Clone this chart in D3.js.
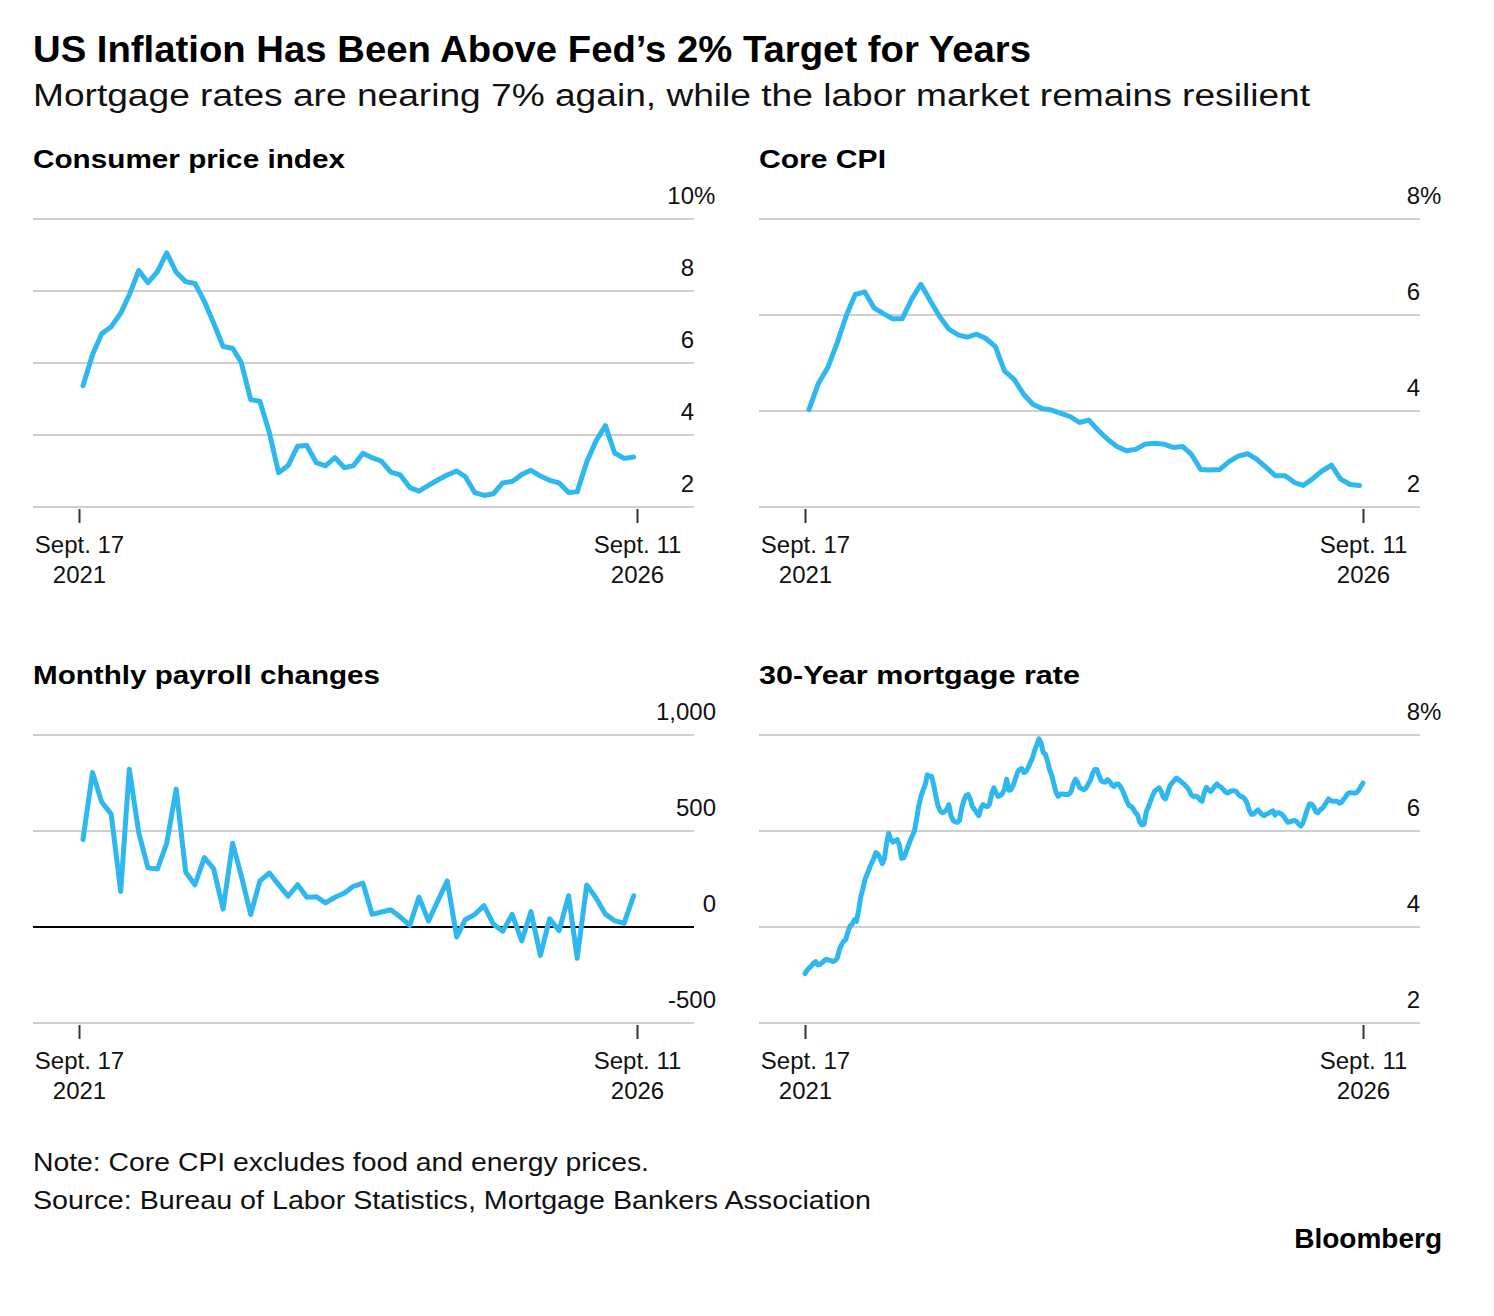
<!DOCTYPE html>
<html>
<head>
<meta charset="utf-8">
<script src="https://cdn.jsdelivr.net/npm/d3@7"></script>
<style>
  body { margin: 0; background: #fff; }
  svg { display: block; font-family: "Liberation Sans", Arial, Helvetica, sans-serif; }
</style>
</head>
<body>
<svg id="chart"></svg>
<script>
let width = 1494, height = 1316;
let lineColor = "#2fb7ef";
let gridColor = "#cfcfcf";

let startDate = new Date(2021, 8, 17);
let endDate = new Date(2026, 8, 11);

// monthly, Sept 2021 .. Aug 2026 (YoY %)
let cpi = [
  5.37, 6.23, 6.81, 7.01, 7.38, 7.89, 8.57, 8.23, 8.54, 9.06,
  8.52, 8.26, 8.21, 7.71, 7.11, 6.46, 6.41, 6.02, 4.98, 4.94,
  4.06, 2.95, 3.15, 3.69, 3.71, 3.23, 3.14, 3.37, 3.09, 3.15,
  3.49, 3.37, 3.27, 2.97, 2.89, 2.54, 2.44, 2.60, 2.75, 2.89,
  3.00, 2.84, 2.40, 2.32, 2.37, 2.67, 2.71, 2.90, 3.02, 2.86,
  2.74, 2.67, 2.40, 2.42, 3.25, 3.83, 4.26, 3.50, 3.35, 3.39
];
let coreCpi = [
  4.03, 4.58, 4.90, 5.42, 6.01, 6.43, 6.48, 6.15, 6.03, 5.92,
  5.92, 6.33, 6.64, 6.29, 5.97, 5.70, 5.58, 5.54, 5.60, 5.51,
  5.34, 4.83, 4.66, 4.35, 4.14, 4.05, 4.02, 3.95, 3.88, 3.76,
  3.81, 3.60, 3.41, 3.26, 3.17, 3.20, 3.31, 3.33, 3.31, 3.24,
  3.26, 3.10, 2.78, 2.77, 2.78, 2.94, 3.06, 3.11, 2.99, 2.82,
  2.65, 2.65, 2.51, 2.45, 2.59, 2.75, 2.87, 2.58, 2.47, 2.45
];
// thousands of jobs
let payrolls = [
  455, 805, 651, 588, 185, 822, 490, 308, 302, 436,
  718, 286, 220, 361, 304, 93, 436, 269, 65, 240,
  281, 221, 160, 220, 155, 158, 126, 155, 177, 212,
  229, 66, 78, 90, 52, 9, 156, 31, 135, 240,
  -52, 38, 66, 111, 14, -22, 66, -73, 80, -148,
  43, -19, 163, -163, 219, 152, 67, 33, 19, 163
];
// weekly, Sept 17 2021 .. Sept 11 2026
let mortgage = [
  3.03, 3.10, 3.15, 3.19, 3.25, 3.28, 3.21, 3.22, 3.26, 3.30,
  3.33, 3.31, 3.30, 3.28, 3.30, 3.35, 3.52, 3.63, 3.70, 3.74,
  3.90, 4.02, 4.06, 4.15, 4.12, 4.35, 4.63, 4.80, 5.00, 5.10,
  5.22, 5.33, 5.42, 5.55, 5.52, 5.43, 5.32, 5.42, 5.74, 5.95,
  5.82, 5.77, 5.80, 5.82, 5.70, 5.43, 5.44, 5.55, 5.68, 5.80,
  5.90, 6.00, 6.25, 6.52, 6.72, 6.85, 6.96, 7.17, 7.14, 7.14,
  6.95, 6.72, 6.52, 6.42, 6.38, 6.40, 6.45, 6.55, 6.32, 6.22,
  6.19, 6.18, 6.22, 6.47, 6.63, 6.74, 6.76, 6.67, 6.51, 6.45,
  6.38, 6.32, 6.48, 6.55, 6.52, 6.51, 6.56, 6.78, 6.90,
  6.80, 6.72, 6.74, 6.78, 6.88, 7.08, 6.85, 6.86, 6.95, 7.08,
  7.22, 7.28, 7.30, 7.22, 7.24, 7.32, 7.42, 7.52, 7.68, 7.79,
  7.92, 7.83, 7.63, 7.60, 7.46, 7.27, 7.16, 6.97, 6.80, 6.72,
  6.77, 6.77, 6.76, 6.76, 6.77, 6.82, 6.98, 7.08, 7.02, 6.90,
  6.88, 6.86, 6.90, 6.98, 7.06, 7.20, 7.28, 7.28, 7.15, 7.05,
  7.02, 7.02, 7.07, 7.03, 6.96, 6.93, 6.98, 6.98, 6.92, 6.84,
  6.73, 6.62, 6.53, 6.51, 6.46, 6.38, 6.33, 6.18, 6.13, 6.14,
  6.40, 6.50, 6.62, 6.74, 6.83, 6.87, 6.90, 6.82, 6.70, 6.67,
  6.80, 6.94, 7.00, 7.05, 7.10, 7.07, 7.04, 7.00, 6.96,
  6.91, 6.85, 6.75, 6.72, 6.73, 6.71, 6.65, 6.62, 6.80, 6.91,
  6.86, 6.82, 6.87, 6.94, 6.98, 6.93, 6.91, 6.86, 6.81, 6.79,
  6.82, 6.84, 6.84, 6.82, 6.76, 6.72, 6.71, 6.66, 6.58, 6.43,
  6.35, 6.35, 6.40, 6.44, 6.39, 6.34, 6.32, 6.35, 6.37, 6.40,
  6.42, 6.33, 6.38, 6.38, 6.35, 6.31, 6.24, 6.18, 6.19, 6.21,
  6.22, 6.20, 6.15, 6.10, 6.17, 6.30, 6.44, 6.56, 6.56, 6.51,
  6.40, 6.38, 6.44, 6.47, 6.53, 6.60, 6.67, 6.63, 6.62, 6.62,
  6.62, 6.58, 6.60, 6.66, 6.72, 6.78, 6.80, 6.79, 6.79, 6.80,
  6.85, 6.93, 7.00
];

let cpiTicks = [2, 4, 6, 8, 10];
let coreTicks = [2, 4, 6, 8];
let payrollTicks = [-500, 0, 500, 1000];
let mortgageTicks = [2, 4, 6, 8];

let monthNames = ["Jan.", "Feb.", "March", "April", "May", "June",
  "July", "Aug.", "Sept.", "Oct.", "Nov.", "Dec."];

// month-end dates for monthly series, 7-day steps for weekly
let monthDates = cpi.map((d, i) => new Date(2021, 9 + i, 0));
let weekDates = mortgage.map((d, i) => d3.timeDay.offset(startDate, 7 * i));

let panels = [
  {title: "Consumer price index", values: cpi, dates: monthDates, ticks: cpiTicks, pct: true},
  {title: "Core CPI", values: coreCpi, dates: monthDates, ticks: coreTicks, pct: true},
  {title: "Monthly payroll changes", values: payrolls, dates: monthDates, ticks: payrollTicks, pct: false},
  {title: "30-Year mortgage rate", values: mortgage, dates: weekDates, ticks: mortgageTicks, pct: true},
];

// plain hyphen for negatives, like the original
let fmt = d3.formatLocale({decimal: ".", thousands: ",", grouping: [3], currency: ["$", ""], minus: "-"}).format(",");

let svg = d3.select("#chart")
  .attr("width", width)
  .attr("height", height);

svg.append("text")
  .attr("x", 33).attr("y", 62)
  .attr("font-size", 37).attr("font-weight", "bold")
  .attr("textLength", 998).attr("lengthAdjust", "spacingAndGlyphs")
  .attr("fill", "#000")
  .text("US Inflation Has Been Above Fed’s 2% Target for Years");

svg.append("text")
  .attr("x", 33).attr("y", 106)
  .attr("font-size", 31)
  .attr("textLength", 1277).attr("lengthAdjust", "spacingAndGlyphs")
  .attr("fill", "#111")
  .text("Mortgage rates are nearing 7% again, while the labor market remains resilient");

let titleWidths = [312, 127, 347, 321];

panels.forEach((p, i) => {
  let left = 33 + (i % 2) * 726;
  let top = 219 + Math.floor(i / 2) * 516;
  let gridEnd = left + 661;
  let bottom = top + 288;

  let g = svg.append("g");

  g.append("text")
    .attr("x", left).attr("y", top - 51)
    .attr("font-size", 26).attr("font-weight", "bold")
    .attr("textLength", titleWidths[i]).attr("lengthAdjust", "spacingAndGlyphs")
    .attr("fill", "#000")
    .text(p.title);

  let x = d3.scaleTime()
    .domain([startDate, endDate])
    .range([left + 46, left + 604]);

  let y = d3.scaleLinear()
    .domain(d3.extent(p.ticks))
    .range([bottom, top]);

  g.selectAll(".grid")
    .data(p.ticks)
    .enter().append("line")
      .attr("x1", left).attr("x2", gridEnd)
      .attr("y1", d => y(d)).attr("y2", d => y(d))
      .attr("stroke", d => (d === 0 && !p.pct) ? "#000" : gridColor)
      .attr("stroke-width", 2);

  let topTick = d3.max(p.ticks);
  g.selectAll(".ylab")
    .data(p.ticks)
    .enter().append("text")
      .attr("x", p.pct ? gridEnd : left + 683)
      .attr("y", d => y(d) - 15)
      .attr("text-anchor", "end")
      .attr("font-size", 24)
      .attr("fill", "#111")
      .text(d => p.pct ? d : fmt(d));

  if (p.pct) {
    g.append("text")
      .attr("x", gridEnd).attr("y", y(topTick) - 15)
      .attr("font-size", 24)
      .attr("fill", "#111")
      .text("%");
  }

  let axis = g.append("g")
    .attr("transform", "translate(0," + (bottom + 2) + ")")
    .call(d3.axisBottom(x).tickValues([startDate, endDate]).tickSize(14).tickFormat(""));
  axis.attr("font-family", null).attr("font-size", null);
  axis.select(".domain").remove();
  axis.selectAll(".tick line").attr("stroke", "#333").attr("stroke-width", 2);
  axis.selectAll(".tick text").remove();
  let lab = axis.selectAll(".tick").append("text")
    .attr("text-anchor", "middle")
    .attr("font-size", 24)
    .attr("fill", "#111");
  lab.append("tspan").attr("x", 0).attr("y", 44)
    .text(d => monthNames[d.getMonth()] + " " + d.getDate());
  lab.append("tspan").attr("x", 0).attr("y", 74)
    .text(d => d.getFullYear());

  let line = d3.line()
    .x((d, j) => x(p.dates[j]))
    .y(d => y(d));

  g.append("path")
    .datum(p.values)
    .attr("fill", "none")
    .attr("stroke", lineColor)
    .attr("stroke-width", 5)
    .attr("stroke-linejoin", "round")
    .attr("stroke-linecap", "round")
    .attr("d", line);
});

svg.append("text")
  .attr("x", 33).attr("y", 1171)
  .attr("font-size", 25)
  .attr("textLength", 616).attr("lengthAdjust", "spacingAndGlyphs")
  .attr("fill", "#111")
  .text("Note: Core CPI excludes food and energy prices.");

svg.append("text")
  .attr("x", 33).attr("y", 1209)
  .attr("font-size", 25)
  .attr("textLength", 838).attr("lengthAdjust", "spacingAndGlyphs")
  .attr("fill", "#111")
  .text("Source: Bureau of Labor Statistics, Mortgage Bankers Association");

svg.append("text")
  .attr("x", 1442).attr("y", 1248)
  .attr("text-anchor", "end")
  .attr("font-size", 28).attr("font-weight", "bold")
  .attr("fill", "#000")
  .text("Bloomberg");
</script>
</body>
</html>
